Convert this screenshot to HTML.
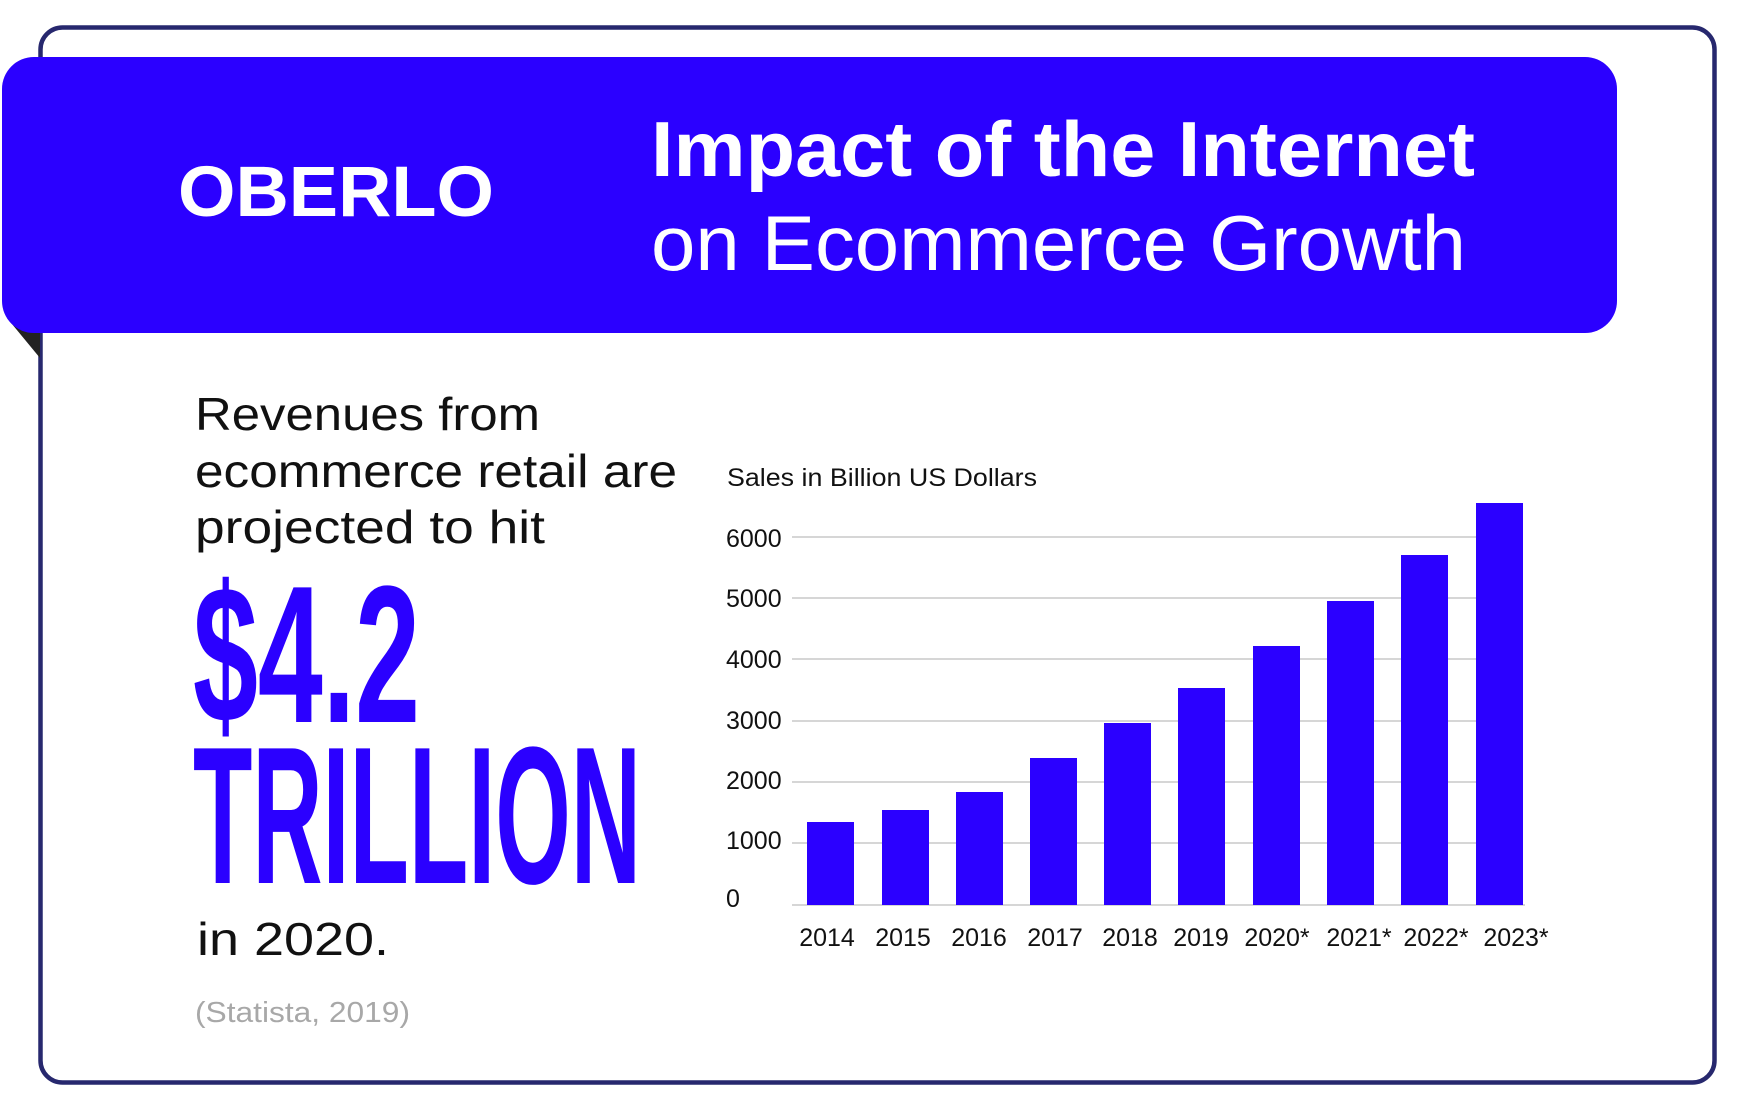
<!DOCTYPE html>
<html><head><meta charset="utf-8"><style>
html,body{margin:0;padding:0;background:#fff;}
svg{display:block;}
text{font-family:"Liberation Sans",sans-serif;}
</style></head><body>
<svg width="1740" height="1105" viewBox="0 0 1740 1105" xmlns="http://www.w3.org/2000/svg">
<rect x="0" y="0" width="1740" height="1105" fill="#fff"/>
<rect x="40.5" y="27.5" width="1674" height="1055" rx="22" fill="#fff" stroke="#27286e" stroke-width="4.5"/>
<polygon points="7,318 40,318 40,358" fill="#222"/>
<rect x="2" y="57" width="1615" height="276" rx="32" fill="#2b00ff"/>
<text x="178" y="216" font-size="71" font-weight="bold" fill="#fff" textLength="316" lengthAdjust="spacingAndGlyphs">OBERLO</text>
<text x="651" y="176" font-size="78" font-weight="bold" fill="#fff" textLength="824" lengthAdjust="spacingAndGlyphs">Impact of the Internet</text>
<text x="651" y="270" font-size="78" fill="#fff" textLength="815" lengthAdjust="spacingAndGlyphs">on Ecommerce Growth</text>

<g fill="#111" font-size="46">
<text x="195" y="430" textLength="345" lengthAdjust="spacingAndGlyphs">Revenues from</text>
<text x="195" y="487" textLength="482" lengthAdjust="spacingAndGlyphs">ecommerce retail are</text>
<text x="195" y="543" textLength="350" lengthAdjust="spacingAndGlyphs">projected to hit</text>
<text x="197" y="955" textLength="192" lengthAdjust="spacingAndGlyphs">in 2020.</text>
</g>
<text x="195" y="1022" font-size="29" fill="#a8a8a8" textLength="215" lengthAdjust="spacingAndGlyphs">(Statista, 2019)</text>
<g fill="#2b00ff" font-weight="bold">
<text transform="translate(193,722) scale(1,1.45)" x="0" y="0" font-size="135" textLength="227" lengthAdjust="spacingAndGlyphs">$4.2</text>
<text transform="translate(193,883) scale(1,1.45)" x="0" y="0" font-size="135" textLength="448" lengthAdjust="spacingAndGlyphs">TRILLION</text>
</g>

<text x="727" y="486" font-size="25" fill="#111" textLength="310" lengthAdjust="spacingAndGlyphs">Sales in Billion US Dollars</text>
<g stroke="#d6d6d6" stroke-width="2">
<line x1="792" y1="537" x2="1480" y2="537"/>
<line x1="792" y1="598" x2="1480" y2="598"/>
<line x1="792" y1="659" x2="1480" y2="659"/>
<line x1="792" y1="721" x2="1480" y2="721"/>
<line x1="792" y1="782" x2="1480" y2="782"/>
<line x1="792" y1="843" x2="1480" y2="843"/>
<line x1="792" y1="905" x2="1525" y2="905"/>
</g>
<g font-size="25" fill="#111">
<text x="726" y="547">6000</text>
<text x="726" y="607">5000</text>
<text x="726" y="668">4000</text>
<text x="726" y="729">3000</text>
<text x="726" y="789">2000</text>
<text x="726" y="849">1000</text>
<text x="726" y="907">0</text>
</g>
<g fill="#2b00ff">
<rect x="807" y="822" width="47" height="83"/>
<rect x="882" y="810" width="47" height="95"/>
<rect x="956" y="792" width="47" height="113"/>
<rect x="1030" y="758" width="47" height="147"/>
<rect x="1104" y="723" width="47" height="182"/>
<rect x="1178" y="688" width="47" height="217"/>
<rect x="1253" y="646" width="47" height="259"/>
<rect x="1327" y="601" width="47" height="304"/>
<rect x="1401" y="555" width="47" height="350"/>
<rect x="1476" y="503" width="47" height="402"/>
</g>
<g font-size="25" fill="#111" text-anchor="middle">
<text x="827" y="946">2014</text>
<text x="903" y="946">2015</text>
<text x="979" y="946">2016</text>
<text x="1055" y="946">2017</text>
<text x="1130" y="946">2018</text>
<text x="1201" y="946">2019</text>
<text x="1277" y="946">2020*</text>
<text x="1359" y="946">2021*</text>
<text x="1436" y="946">2022*</text>
<text x="1516" y="946">2023*</text>
</g>
</svg>
</body></html>
